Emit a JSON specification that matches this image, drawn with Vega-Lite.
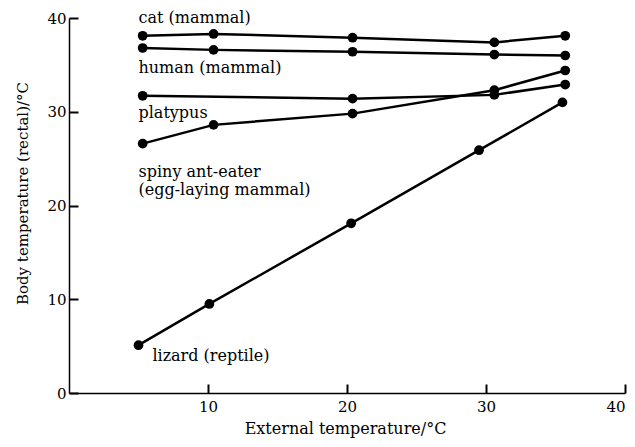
{
  "$schema": "https://vega.github.io/schema/vega-lite/v6.json",
  "width": 556,
  "height": 375,
  "autosize": "none",
  "padding": {"left": 69, "top": 18, "right": 10, "bottom": 54},
  "background": "white",
  "config": {
    "view": {"stroke": null},
    "font": "DejaVu Serif",
    "axis": {
      "grid": false,
      "domainColor": "black",
      "domainWidth": 1.5,
      "tickColor": "black",
      "tickWidth": 2,
      "tickSize": -9,
      "labelColor": "black",
      "labelFont": "DejaVu Serif",
      "labelFontSize": 15,
      "titleColor": "black",
      "titleFont": "DejaVu Serif",
      "titleFontSize": 15,
      "titleFontWeight": "normal"
    }
  },
  "datasets": {
    "series": [
      {"animal": "cat", "ext": 5.3, "body": 38.1},
      {"animal": "cat", "ext": 10.4, "body": 38.3},
      {"animal": "cat", "ext": 20.4, "body": 37.9},
      {"animal": "cat", "ext": 30.6, "body": 37.4},
      {"animal": "cat", "ext": 35.7, "body": 38.1},
      {"animal": "human", "ext": 5.3, "body": 36.8},
      {"animal": "human", "ext": 10.4, "body": 36.6},
      {"animal": "human", "ext": 20.4, "body": 36.4},
      {"animal": "human", "ext": 30.6, "body": 36.1},
      {"animal": "human", "ext": 35.7, "body": 36.0},
      {"animal": "platypus", "ext": 5.3, "body": 31.7},
      {"animal": "platypus", "ext": 20.4, "body": 31.4},
      {"animal": "platypus", "ext": 30.6, "body": 31.8},
      {"animal": "platypus", "ext": 35.7, "body": 32.9},
      {"animal": "spiny", "ext": 5.3, "body": 26.6},
      {"animal": "spiny", "ext": 10.4, "body": 28.6},
      {"animal": "spiny", "ext": 20.4, "body": 29.8},
      {"animal": "spiny", "ext": 30.6, "body": 32.3},
      {"animal": "spiny", "ext": 35.7, "body": 34.4},
      {"animal": "lizard", "ext": 5.0, "body": 5.1},
      {"animal": "lizard", "ext": 10.1, "body": 9.5},
      {"animal": "lizard", "ext": 20.3, "body": 18.1},
      {"animal": "lizard", "ext": 29.5, "body": 25.9},
      {"animal": "lizard", "ext": 35.5, "body": 31.0}
    ],
    "labels": [
      {"label": "cat (mammal)", "ext": 5.0, "body": 40.0},
      {"label": "human (mammal)", "ext": 5.0, "body": 34.7},
      {"label": "platypus", "ext": 5.0, "body": 29.9},
      {"label": "spiny ant-eater", "ext": 5.0, "body": 23.6},
      {"label": "(egg-laying mammal)", "ext": 5.0, "body": 21.7},
      {"label": "lizard (reptile)", "ext": 6.0, "body": 3.9}
    ]
  },
  "layer": [
    {
      "data": {"name": "series"},
      "mark": {"type": "line", "color": "black", "strokeWidth": 2.5},
      "encoding": {
        "x": {
          "field": "ext", "type": "quantitative",
          "scale": {"domain": [0, 40], "nice": false, "zero": true},
          "axis": {
            "values": [10, 20, 30, 40],
            "title": "External temperature/°C",
            "titleFontSize": 16,
            "titleX": 276, "titleY": 35,
            "titleAlign": "center", "titleBaseline": "middle",
            "labelPadding": 15
          }
        },
        "y": {
          "field": "body", "type": "quantitative",
          "scale": {"domain": [0, 40], "nice": false},
          "axis": {
            "values": [0, 10, 20, 30, 40],
            "title": "Body temperature (rectal)/°C",
            "titleX": -47, "titleY": 175,
            "titleAlign": "center", "titleBaseline": "middle",
            "titleAngle": -90,
            "labelPadding": 12
          }
        },
        "detail": {"field": "animal"}
      }
    },
    {
      "data": {"name": "series"},
      "mark": {"type": "point", "filled": true, "color": "black", "opacity": 1, "size": 95},
      "encoding": {
        "x": {"field": "ext", "type": "quantitative"},
        "y": {"field": "body", "type": "quantitative"}
      }
    },
    {
      "data": {"name": "labels"},
      "mark": {"type": "text", "align": "left", "baseline": "middle", "font": "DejaVu Serif", "fontSize": 16, "color": "black"},
      "encoding": {
        "x": {"field": "ext", "type": "quantitative"},
        "y": {"field": "body", "type": "quantitative"},
        "text": {"field": "label"}
      }
    }
  ]
}
